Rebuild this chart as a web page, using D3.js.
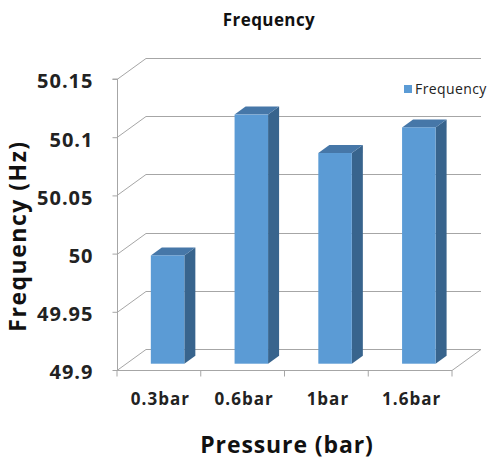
<!DOCTYPE html>
<html>
<head>
<meta charset="utf-8">
<script src="https://cdn.jsdelivr.net/npm/d3@7"></script>
<style>
  html, body { margin: 0; padding: 0; background: #fff; }
  text { font-family: "Open Sans", "Liberation Sans", sans-serif; }
</style>
</head>
<body>
<svg id="chart" width="491" height="461"></svg>
<script>
// Data
const categories = ["0.3bar", "0.6bar", "1bar", "1.6bar"];
const frequency = [49.993, 50.114, 50.081, 50.103];
const yTicks = [49.9, 49.95, 50, 50.05, 50.1, 50.15];
const yTickLabels = ["49.9", "49.95", "50", "50.05", "50.1", "50.15"];
const seriesName = "Frequency";

const svg = d3.select("#chart");

// Front plane of the 3D box and depth offset of the back wall
const plotLeft = 117, plotRight = 452, plotBottom = 370, plotTop = 79;
const DX = 29, DY = -21;
const barFront = 0.3, barBack = 0.68;   // bar position within the depth

const x = d3.scaleBand().domain(categories).range([plotLeft, plotRight]).padding(0);
const y = d3.scaleLinear().domain([49.9, 50.15]).range([plotBottom, plotTop]);
const barW = x.bandwidth() / 2.5;

const gridColor = "#a6a6a6";

// Walls: side-wall diagonals and back-wall gridlines
const grid = svg.append("g").attr("fill", "none").attr("stroke", gridColor).attr("stroke-width", 1);
yTicks.forEach(t => {
  const yy = Math.round(y(t)) + 0.5;
  grid.append("polyline")
    .attr("points", `${plotLeft},${yy} ${plotLeft + DX},${yy + DY} ${plotRight + DX},${yy + DY}`);
});
// Floor: front edge and right edge
grid.append("polyline")
  .attr("points", `${plotLeft},${plotBottom + 0.5} ${plotRight},${plotBottom + 0.5} ${plotRight + DX},${plotBottom + 0.5 + DY}`);

// Vertical axis line with ticks
const yAxis = d3.axisLeft(y).tickValues(yTicks).tickSize(5).tickFormat((d, i) => yTickLabels[i]);
const gy = svg.append("g").attr("transform", `translate(${plotLeft + 0.5},0)`).call(yAxis);
gy.select(".domain").attr("stroke", gridColor).attr("d", `M-5,${y(50.15)}H0V${plotBottom + 0.5}`);
gy.selectAll(".tick line").attr("stroke", gridColor);
gy.selectAll(".tick text")
  .attr("x", -24).attr("dy", "0.44em")
  .attr("font-family", "'Open Sans', sans-serif")
  .attr("font-size", 20).attr("letter-spacing", 1).attr("font-weight", "bold").attr("fill", "#222");

// Category axis ticks and labels
const xAxis = d3.axisBottom(x).tickSize(6).tickSizeOuter(0);
const gx = svg.append("g").attr("transform", `translate(0,${plotBottom + 0.5})`).call(xAxis);
gx.select(".domain").remove();
gx.selectAll(".tick line").attr("stroke", gridColor)
  .attr("transform", `translate(${x.bandwidth() / 2},0)`);
gx.append("line").attr("x1", plotLeft).attr("x2", plotLeft).attr("y1", 0).attr("y2", 6).attr("stroke", gridColor);
gx.selectAll(".tick text")
  .attr("y", 34.5).attr("dy", 0).attr("dx", 1.5)
  .attr("font-family", "'Open Sans', sans-serif")
  .attr("font-size", 17).attr("letter-spacing", 1).attr("font-weight", "bold").attr("fill", "#222");

// 3D bars
const colFront = "#5b9bd5", colTop = "#4677a8", colSide = "#38648d";
const bars = svg.append("g").selectAll("g").data(categories).join("g");
bars.each(function (c, i) {
  const g = d3.select(this);
  const x0 = x(c) + (x.bandwidth() - barW) / 2 + barFront * DX;
  const x1 = x0 + barW;
  const yT = y(frequency[i]) + barFront * DY;
  const yB = y(49.9) + barFront * DY;
  const ddx = (barBack - barFront) * DX, ddy = (barBack - barFront) * DY;
  g.append("polygon").attr("fill", colSide)
    .attr("points", `${x1},${yT} ${x1 + ddx},${yT + ddy} ${x1 + ddx},${yB + ddy} ${x1},${yB}`);
  g.append("polygon").attr("fill", colTop)
    .attr("points", `${x0},${yT} ${x0 + ddx},${yT + ddy} ${x1 + ddx},${yT + ddy} ${x1},${yT}`);
  g.append("rect").attr("fill", colFront)
    .attr("x", x0).attr("y", yT).attr("width", barW).attr("height", yB - yT);
});

// Title
svg.append("text").attr("x", 269).attr("y", 26).attr("text-anchor", "middle")
  .attr("font-size", 17).attr("letter-spacing", 0.4).attr("font-weight", "bold").attr("fill", "#111").text("Frequency");

// Axis titles
svg.append("text").attr("x", 287).attr("y", 453).attr("text-anchor", "middle")
  .attr("font-size", 23).attr("letter-spacing", 0.9).attr("font-weight", "bold").attr("fill", "#111").text("Pressure (bar)");
svg.append("text").attr("transform", "translate(26,236) rotate(-90)").attr("text-anchor", "middle")
  .attr("font-size", 23).attr("letter-spacing", 1.5).attr("font-weight", "bold").attr("fill", "#111").text("Frequency (Hz)");

// Legend
const lg = svg.append("g").attr("transform", "translate(404,85)");
lg.append("rect").attr("width", 8).attr("height", 8).attr("fill", colFront);
lg.append("text").attr("x", 11).attr("y", 9).attr("font-size", 14).attr("letter-spacing", 0.4).attr("fill", "#222").text(seriesName);
</script>
</body>
</html>
